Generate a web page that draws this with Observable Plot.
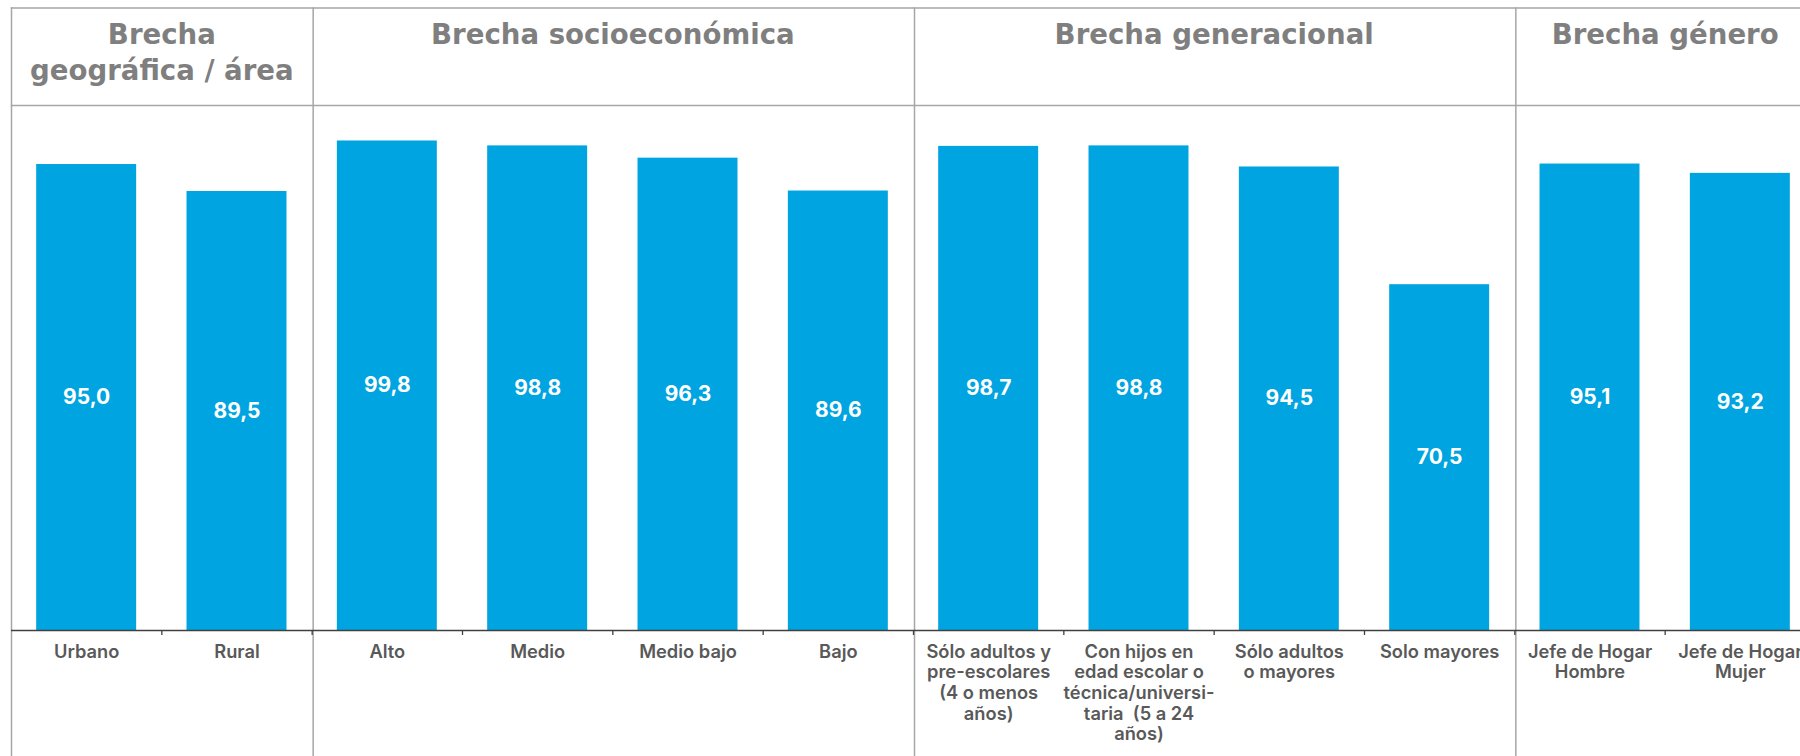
<!DOCTYPE html>
<html><head><meta charset="utf-8">
<script src="https://cdn.jsdelivr.net/npm/d3@7"></script>
<script src="https://cdn.jsdelivr.net/npm/@observablehq/plot@0.6"></script>
<style>
html,body{margin:0;padding:0;background:#fff;overflow:hidden;}
svg text{white-space:pre;}
</style>
</head><body><div id="chart"></div>
<script>
const categories = ["Urbano","Rural","Alto","Medio","Medio bajo","Bajo",
  "Sólo adultos y pre-escolares (4 o menos años)",
  "Con hijos en edad escolar o técnica/universitaria (5 a 24 años)",
  "Sólo adultos o mayores","Solo mayores","Jefe de Hogar Hombre","Jefe de Hogar Mujer"];
const tickLabels = ["Urbano","Rural","Alto","Medio","Medio bajo","Bajo",
  "Sólo adultos y\npre-escolares\n(4 o menos\naños)",
  "Con hijos en\nedad escolar o\ntécnica/universi-\ntaria  (5 a 24\naños)",
  "Sólo adultos\no mayores","Solo mayores","Jefe de Hogar\nHombre","Jefe de Hogar\nMujer"];
const values = [95.0, 89.5, 99.8, 98.8, 96.3, 89.6, 98.7, 98.8, 94.5, 70.5, 95.1, 93.2];
const groupNames = ["Brecha\ngeográfica / área","Brecha socioeconómica","Brecha generacional","Brecha género"];
const groupSizes = [2, 4, 4, 2];

const data = categories.map((c, i) => ({cat: c, label: tickLabels[i], value: values[i]}));
let s = 0;
const groupData = groupNames.map((g, i) => { const d = {name: g, first: categories[s], n: groupSizes[i]}; s += groupSizes[i]; return d; });

const W = 1800, H = 756;
const x0 = 11, x1 = 1815;
const step = (x1 - x0) / categories.length;
const gridColor = "#a6a6a6";
const headFont = "DejaVu Sans";
const fmt = v => v.toFixed(1).replace(".", ",");

const plot = Plot.plot({
  width: W, height: H,
  marginTop: 0, marginRight: 0, marginBottom: 0, marginLeft: 0,
  style: {background: "#fff"},
  x: {domain: categories, range: [x0, x1], paddingInner: 0.335, paddingOuter: 0.1675, round: false, axis: null},
  y: {domain: [0, 100], range: [630, 139.5], axis: null},
  marks: [
    Plot.frame({anchor: "top", insetTop: 7.5, insetLeft: 11, stroke: gridColor, strokeWidth: 1.5}),
    Plot.frame({anchor: "top", insetTop: 105, insetLeft: 11, stroke: gridColor, strokeWidth: 1.5}),
    Plot.frame({anchor: "left", insetLeft: 11, insetTop: 7.5, stroke: gridColor, strokeWidth: 1.5}),
    Plot.ruleX(groupData.slice(1), {x: "first", dx: -step / 2 + 1, insetTop: 7.5, stroke: gridColor, strokeWidth: 1.5}),
    Plot.barY(data, {x: "cat", y: "value", fill: "#00A4E0"}),
    Plot.ruleY([0], {insetLeft: 11, stroke: "#404040", strokeWidth: 1.5}),
    Plot.ruleX(categories.slice(1), {x: d => d, dx: -step / 2, y1: 0, y2: 0, insetBottom: -5, stroke: "#404040", strokeWidth: 1.3}),
    Plot.text(data, {x: "cat", y: d => d.value / 2, text: d => fmt(d.value), fill: "white",
      fontSize: 21, fontWeight: 700, fontFamily: "Inter"}),
    Plot.text(data, {x: "cat", y: 0, text: "label", dy: 12.5, lineAnchor: "top", lineHeight: 20.3 / 18,
      fontSize: 18.3, fontWeight: 600, fontFamily: "Inter", fill: "#595959"}),
    ...groupData.map(g => Plot.text([g], {x: "first", dx: (g.n - 1) / 2 * step, frameAnchor: "top", dy: 18,
      text: "name", lineAnchor: "top", lineHeight: 36 / 27.6, fontSize: 27.6, fontWeight: 700,
      fontFamily: headFont, fill: "#7f7f7f"}))
  ]
});
document.getElementById("chart").appendChild(plot);
</script>
</body></html>
